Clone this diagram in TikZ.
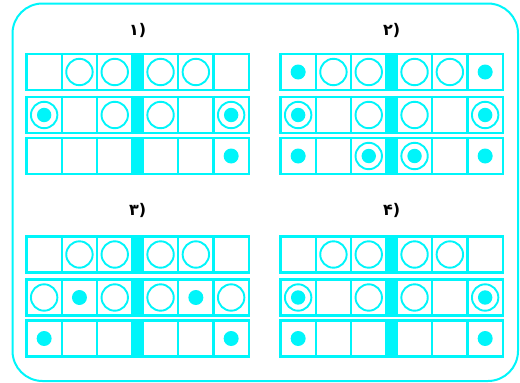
\documentclass[tikz,border=0pt]{standalone}
\usepackage{fontspec}
\newfontfamily\digitfont{DejaVu Sans}
\definecolor{aqua}{RGB}{0,245,250}
\tikzset{
  gridline/.style={draw=aqua, line width=2.1pt},
  ring/.style={draw=aqua, line width=1.9pt},
  dot/.style={fill=aqua},
  outerframe/.style={draw=aqua, line width=2pt, rounded corners=30pt},
  paneltitle/.style={font=\digitfont\bfseries\fontsize{16}{18}\selectfont, text=black, inner sep=0pt}
}
% cell geometry (1 unit = 1pt)
\newcommand\cellw{35.3}
\newcommand\barw{10.5}
\newcommand\cellh{36}
% cell contents: E empty, O ring, F dot, D ring with dot
\newcommand\cmE[2]{}
\newcommand\cmO[2]{\draw[ring] (#1,#2) circle (13.2);}
\newcommand\cmF[2]{\fill[dot] (#1,#2) circle (7.5);}
\newcommand\cmD[2]{\draw[ring] (#1,#2) circle (13.2); \fill[dot] (#1,#2) circle (7.2);}
% one row of six cells split by a solid bar
\newcommand\drawrow[3]{%
  \pgfmathsetmacro\rt{#2}%
  \pgfmathsetmacro\rb{#2+\cellh}%
  \pgfmathsetmacro\rl{#1}%
  \pgfmathsetmacro\rr{#1+6*\cellw+\barw}%
  \fill[aqua] ({\rl+3*\cellw},\rt) rectangle ({\rl+3*\cellw+\barw},\rb);
  \draw[gridline] ({\rl-1.2},\rt) -- ({\rr+1.2},\rt);
  \draw[gridline] ({\rl-1.2},\rb) -- ({\rr+1.2},\rb);
  \foreach \k in {0,1,2,3}{
    \draw[gridline] ({\rl+\k*\cellw},{\rt-1.2}) -- ({\rl+\k*\cellw},{\rb+1.2});
    \draw[gridline] ({\rl+(\k+3)*\cellw+\barw},{\rt-1.2}) -- ({\rl+(\k+3)*\cellw+\barw},{\rb+1.2});
  }
  \foreach \t [count=\c from 0] in {#3}{
    \pgfmathsetmacro\cx{\rl+\c*\cellw+\cellw/2+(\c>2)*\barw}
    \pgfmathsetmacro\cy{\rt+\cellh/2}
    \csname cm\t\endcsname{\cx}{\cy}
  }
}
\newcommand\drawpanel[5]{%
  \drawrow{#1}{#2}{#3}%
  \drawrow{#1}{#2+43}{#4}%
  \drawrow{#1}{#2+84}{#5}%
}
\begin{document}
\begin{tikzpicture}[x=1pt,y=-1pt]
  \useasboundingbox (0,0) rectangle (520,383);
  \draw[outerframe] (12.5,3.5) rectangle (518,381);

  \node[paneltitle] (t1) at (137.6,30.5) {۱)};
  \node[paneltitle] (t2) at (391.6,30.5) {۲)};
  \node[paneltitle] (t3) at (137.6,210.5) {۳)};
  \node[paneltitle] (t4) at (391.6,210.5) {۴)};

  \drawpanel{26.5}{54}{E,O,O,O,O,E}{D,E,O,O,E,D}{E,E,E,E,E,F}
  \drawpanel{280.5}{54}{F,O,O,O,O,F}{D,E,O,O,E,D}{F,E,D,D,E,F}
  \drawpanel{26.5}{236.5}{E,O,O,O,O,E}{O,F,O,O,F,O}{F,E,E,E,E,F}
  \drawpanel{280.5}{236.5}{E,O,O,O,O,E}{D,E,O,O,E,D}{F,E,E,E,E,F}
\end{tikzpicture}
\end{document}
